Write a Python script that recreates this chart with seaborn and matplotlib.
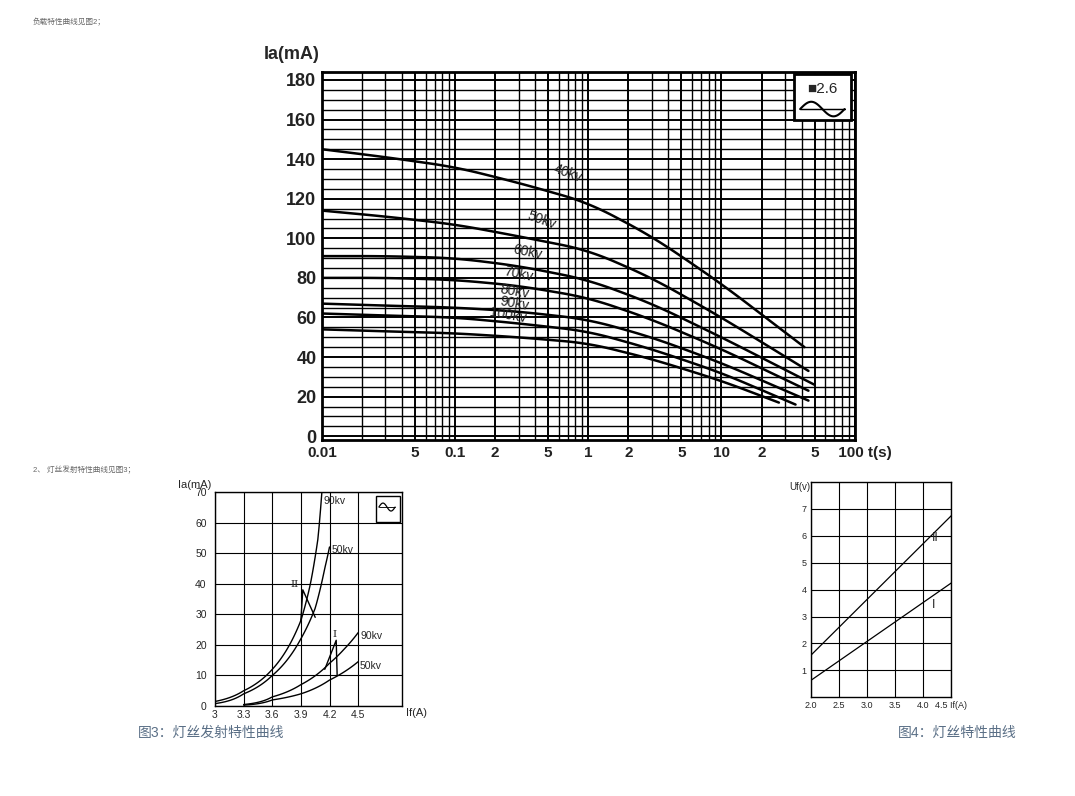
import numpy as np
import matplotlib
matplotlib.use("Agg")
import matplotlib.pyplot as plt
from matplotlib.patches import Rectangle
from matplotlib.ticker import FixedLocator, MultipleLocator, NullFormatter
import seaborn as sns

sns.set_theme(style="white")
plt.rcParams['font.family'] = ['Liberation Sans', 'Noto Sans CJK SC', 'DejaVu Sans']

# load characteristic curves (fig 2), read at these times, last point = curve end
t_pts = [0.01, 0.03, 0.1, 0.3, 1, 3, 10]
load_kv = ['40kv', '50kv', '60kv', '70kv', '80kv', '90kv', '100kv']
load_ia = {
    '40kv': [145, 141, 136, 128, 118, 101, 77],
    '50kv': [114, 111, 107, 101, 94, 80, 60],
    '60kv': [91, 91, 90, 86, 79, 67, 50],
    '70kv': [80, 80, 79, 76, 70, 59, 44],
    '80kv': [67, 66, 65, 63, 59, 50, 37],
    '90kv': [62, 61, 60, 57, 53, 44, 32],
    '100kv': [54, 53, 52, 50, 47, 39, 28],
}
load_end_t = [42, 45, 50, 45, 45, 36, 27]
load_end_ia = [45, 33, 26, 23, 18, 16, 17]

# filament emission (fig 3)
em_x_90a = [3.0, 3.3, 3.6, 3.9, 4.0, 4.08, 4.12]
em_y_90a = [1.5, 5, 12, 28, 40, 55, 70]
em_x_50a = [3.0, 3.3, 3.6, 3.9, 4.05, 4.15, 4.2]
em_y_50a = [0.8, 4, 10, 22, 32, 45, 52]
em_x_90b = [3.3, 3.6, 3.9, 4.2, 4.35, 4.5]
em_y_90b = [0.5, 3, 7, 14, 18.5, 24]
em_x_50b = [3.3, 3.6, 3.9, 4.2, 4.5]
em_y_50b = [0.3, 2, 4, 8.5, 14.5]

# filament characteristic (fig 4)
fil_x = [2.0, 4.5]
fil_II = [1.55, 6.75]
fil_I = [0.62, 4.25]


def sine_icon(x0, y0, w, h, lw):
    a = fig.add_axes([x0, y0, w, h])
    sx = np.linspace(0, 2*np.pi, 40)
    a.plot(sx, np.sin(sx), color='black', lw=lw)
    a.plot([0, 2*np.pi], [0, 0], color='black', lw=lw*0.7)
    a.set_xlim(-0.2, 2*np.pi+0.2)
    a.set_ylim(-1.2, 1.2)
    a.axis('off')


fig = plt.figure(figsize=(10.75, 7.96), dpi=100)
gray = '#666666'
fig.text(33/1075, 1-22/796, '负载特性曲线见图2；', fontsize=5.5, color=gray, va='center')
fig.text(33/1075, 1-470/796, '2、 灯丝发射特性曲线见图3；', fontsize=5.5, color=gray, va='center')
cap = '#5a6f86'
fig.text(138/1075, 1-733/796, '图3：灯丝发射特性曲线', fontsize=10, color=cap, va='center')
fig.text(898/1075, 1-733/796, '图4：灯丝特性曲线', fontsize=10, color=cap, va='center')

# ---- main chart
ax = fig.add_axes([0.2995, 0.447, 0.4955, 0.4625])
for i, kv in enumerate(load_kv):
    lt = np.log10(t_pts + [load_end_t[i]])
    ia = load_ia[kv] + [load_end_ia[i]]
    xs = np.linspace(lt.min(), lt.max(), 120)
    ys = np.interp(xs, lt, ia)
    ys = np.convolve(np.pad(ys, 6, mode='reflect', reflect_type='odd'), np.ones(13)/13, mode='valid')
    sns.lineplot(x=10**xs, y=ys, ax=ax, color='black', lw=1.8)
ax.set_xscale('log')
ax.set_xlim(0.01, 100)
ax.set_ylim(-2, 184)
ax.xaxis.set_minor_locator(FixedLocator([m*10.0**e for e in range(-2, 2) for m in range(2, 10)]))
ax.xaxis.set_minor_formatter(NullFormatter())
ax.set_xticks([0.01, 0.05, 0.1, 0.2, 0.5, 1, 2, 5, 10, 20, 50, 100])
ax.set_xticklabels(['0.01', '5', '0.1', '2', '5', '1', '2', '5', '10', '2', '5', '     100 t(s)'],
                   fontsize=11, fontweight='bold', color='#222222')
ax.set_yticks(range(0, 181, 20))
ax.set_yticklabels([str(v) for v in range(0, 181, 20)], fontsize=13, fontweight='bold', color='#222222')
ax.yaxis.set_minor_locator(MultipleLocator(5))
ax.grid(which='major', color='black', lw=1.4)
ax.grid(which='minor', color='black', lw=1.0)
for s in ax.spines.values():
    s.set_color('black'); s.set_linewidth(2)
ax.tick_params(length=0, pad=4)
ax.text(-0.005, 1.025, 'Ia(mA)', transform=ax.transAxes, ha='right', va='bottom', fontsize=13, fontweight='bold')
lab_pos = [(0.7, 133, -20), (0.45, 109, -20), (0.35, 93, -12), (0.3, 82, -12), (0.28, 73, -10), (0.28, 67, -10), (0.25, 61, -10)]
for kv, (tx, ty, r) in zip(load_kv, lab_pos):
    ax.text(tx, ty, kv, fontsize=10, rotation=r, ha='center', va='center', color='#222222')
ax.add_patch(Rectangle((0.887, 0.87), 0.107, 0.125, transform=ax.transAxes, fc='white', ec='black', lw=2, zorder=5))
ax.text(0.94, 0.953, '■2.6', transform=ax.transAxes, ha='center', va='center', fontsize=11, zorder=6)
sine_icon(0.743, 0.852, 0.044, 0.022, 1.5)

# ---- fig 3
ax3 = fig.add_axes([0.2, 0.113, 0.174, 0.269])
for xs, ys in [(em_x_90a, em_y_90a), (em_x_50a, em_y_50a), (em_x_90b, em_y_90b), (em_x_50b, em_y_50b)]:
    xx = np.linspace(xs[0], xs[-1], 80)
    yy = np.exp(np.interp(xx, xs, np.log(ys)))
    sns.lineplot(x=xx, y=yy, ax=ax3, color='black', lw=1)
ax3.plot([3.9, 3.92, 4.05], [28, 38, 29], color='black', lw=1)
ax3.plot([4.15, 4.27, 4.28], [12, 21.5, 10], color='black', lw=1)
ax3.set_xlim(3, 4.96)
ax3.set_ylim(0, 70)
ax3.set_xticks([3, 3.3, 3.6, 3.9, 4.2, 4.5])
ax3.set_xticklabels(['3', '3.3', '3.6', '3.9', '4.2', '4.5'], fontsize=7.5)
ax3.set_yticks(range(0, 71, 10))
ax3.set_yticklabels([str(v) for v in range(0, 71, 10)], fontsize=7.5)
ax3.grid(color='black', lw=0.8)
for s in ax3.spines.values():
    s.set_color('black'); s.set_linewidth(1)
ax3.tick_params(axis='y', length=0, pad=6)
ax3.tick_params(axis='x', length=0, pad=3)
ax3.text(-0.02, 1.01, 'Ia(mA)', transform=ax3.transAxes, ha='right', va='bottom', fontsize=8)
ax3.text(1.02, -0.01, 'If(A)', transform=ax3.transAxes, ha='left', va='top', fontsize=8)
for x, y, s in [(4.14, 67, '90kv'), (4.22, 51, '50kv'), (4.52, 23, '90kv'), (4.52, 13, '50kv')]:
    ax3.text(x, y, s, fontsize=7.5, va='center')
ax3.text(3.88, 39, 'II', fontsize=7.5, family='serif', ha='right')
ax3.text(4.25, 22.5, 'I', fontsize=7.5, family='serif', ha='center')
ax3.add_patch(Rectangle((0.86, 0.86), 0.13, 0.12, transform=ax3.transAxes, fc='white', ec='black', lw=1, zorder=5))
sine_icon(0.352, 0.357, 0.016, 0.012, 0.9)

# ---- fig 4
ax4 = fig.add_axes([0.754, 0.124, 0.131, 0.2705])
sns.lineplot(x=fil_x, y=fil_II, ax=ax4, color='black', lw=0.9)
sns.lineplot(x=fil_x, y=fil_I, ax=ax4, color='black', lw=0.9)
ax4.set_xlim(2.0, 4.5)
ax4.set_ylim(0, 8)
ax4.set_xticks([2.0, 2.5, 3.0, 3.5, 4.0, 4.5])
ax4.set_xticklabels(['2.0', '2.5', '3.0', '3.5', '4.0', '4.5 If(A)'], fontsize=6.5)
ax4.set_yticks(range(1, 8))
ax4.set_yticklabels([str(v) for v in range(1, 8)], fontsize=6.5)
ax4.grid(color='black', lw=0.8)
for s in ax4.spines.values():
    s.set_color('black'); s.set_linewidth(1)
ax4.tick_params(length=0, pad=3)
ax4.text(0.0, 1.0, 'Uf(v)', transform=ax4.transAxes, ha='right', va='top', fontsize=7)
ax4.text(4.15, 5.8, 'II', fontsize=9)
ax4.text(4.15, 3.3, 'I', fontsize=9)

fig.savefig('out.png', dpi=100)
